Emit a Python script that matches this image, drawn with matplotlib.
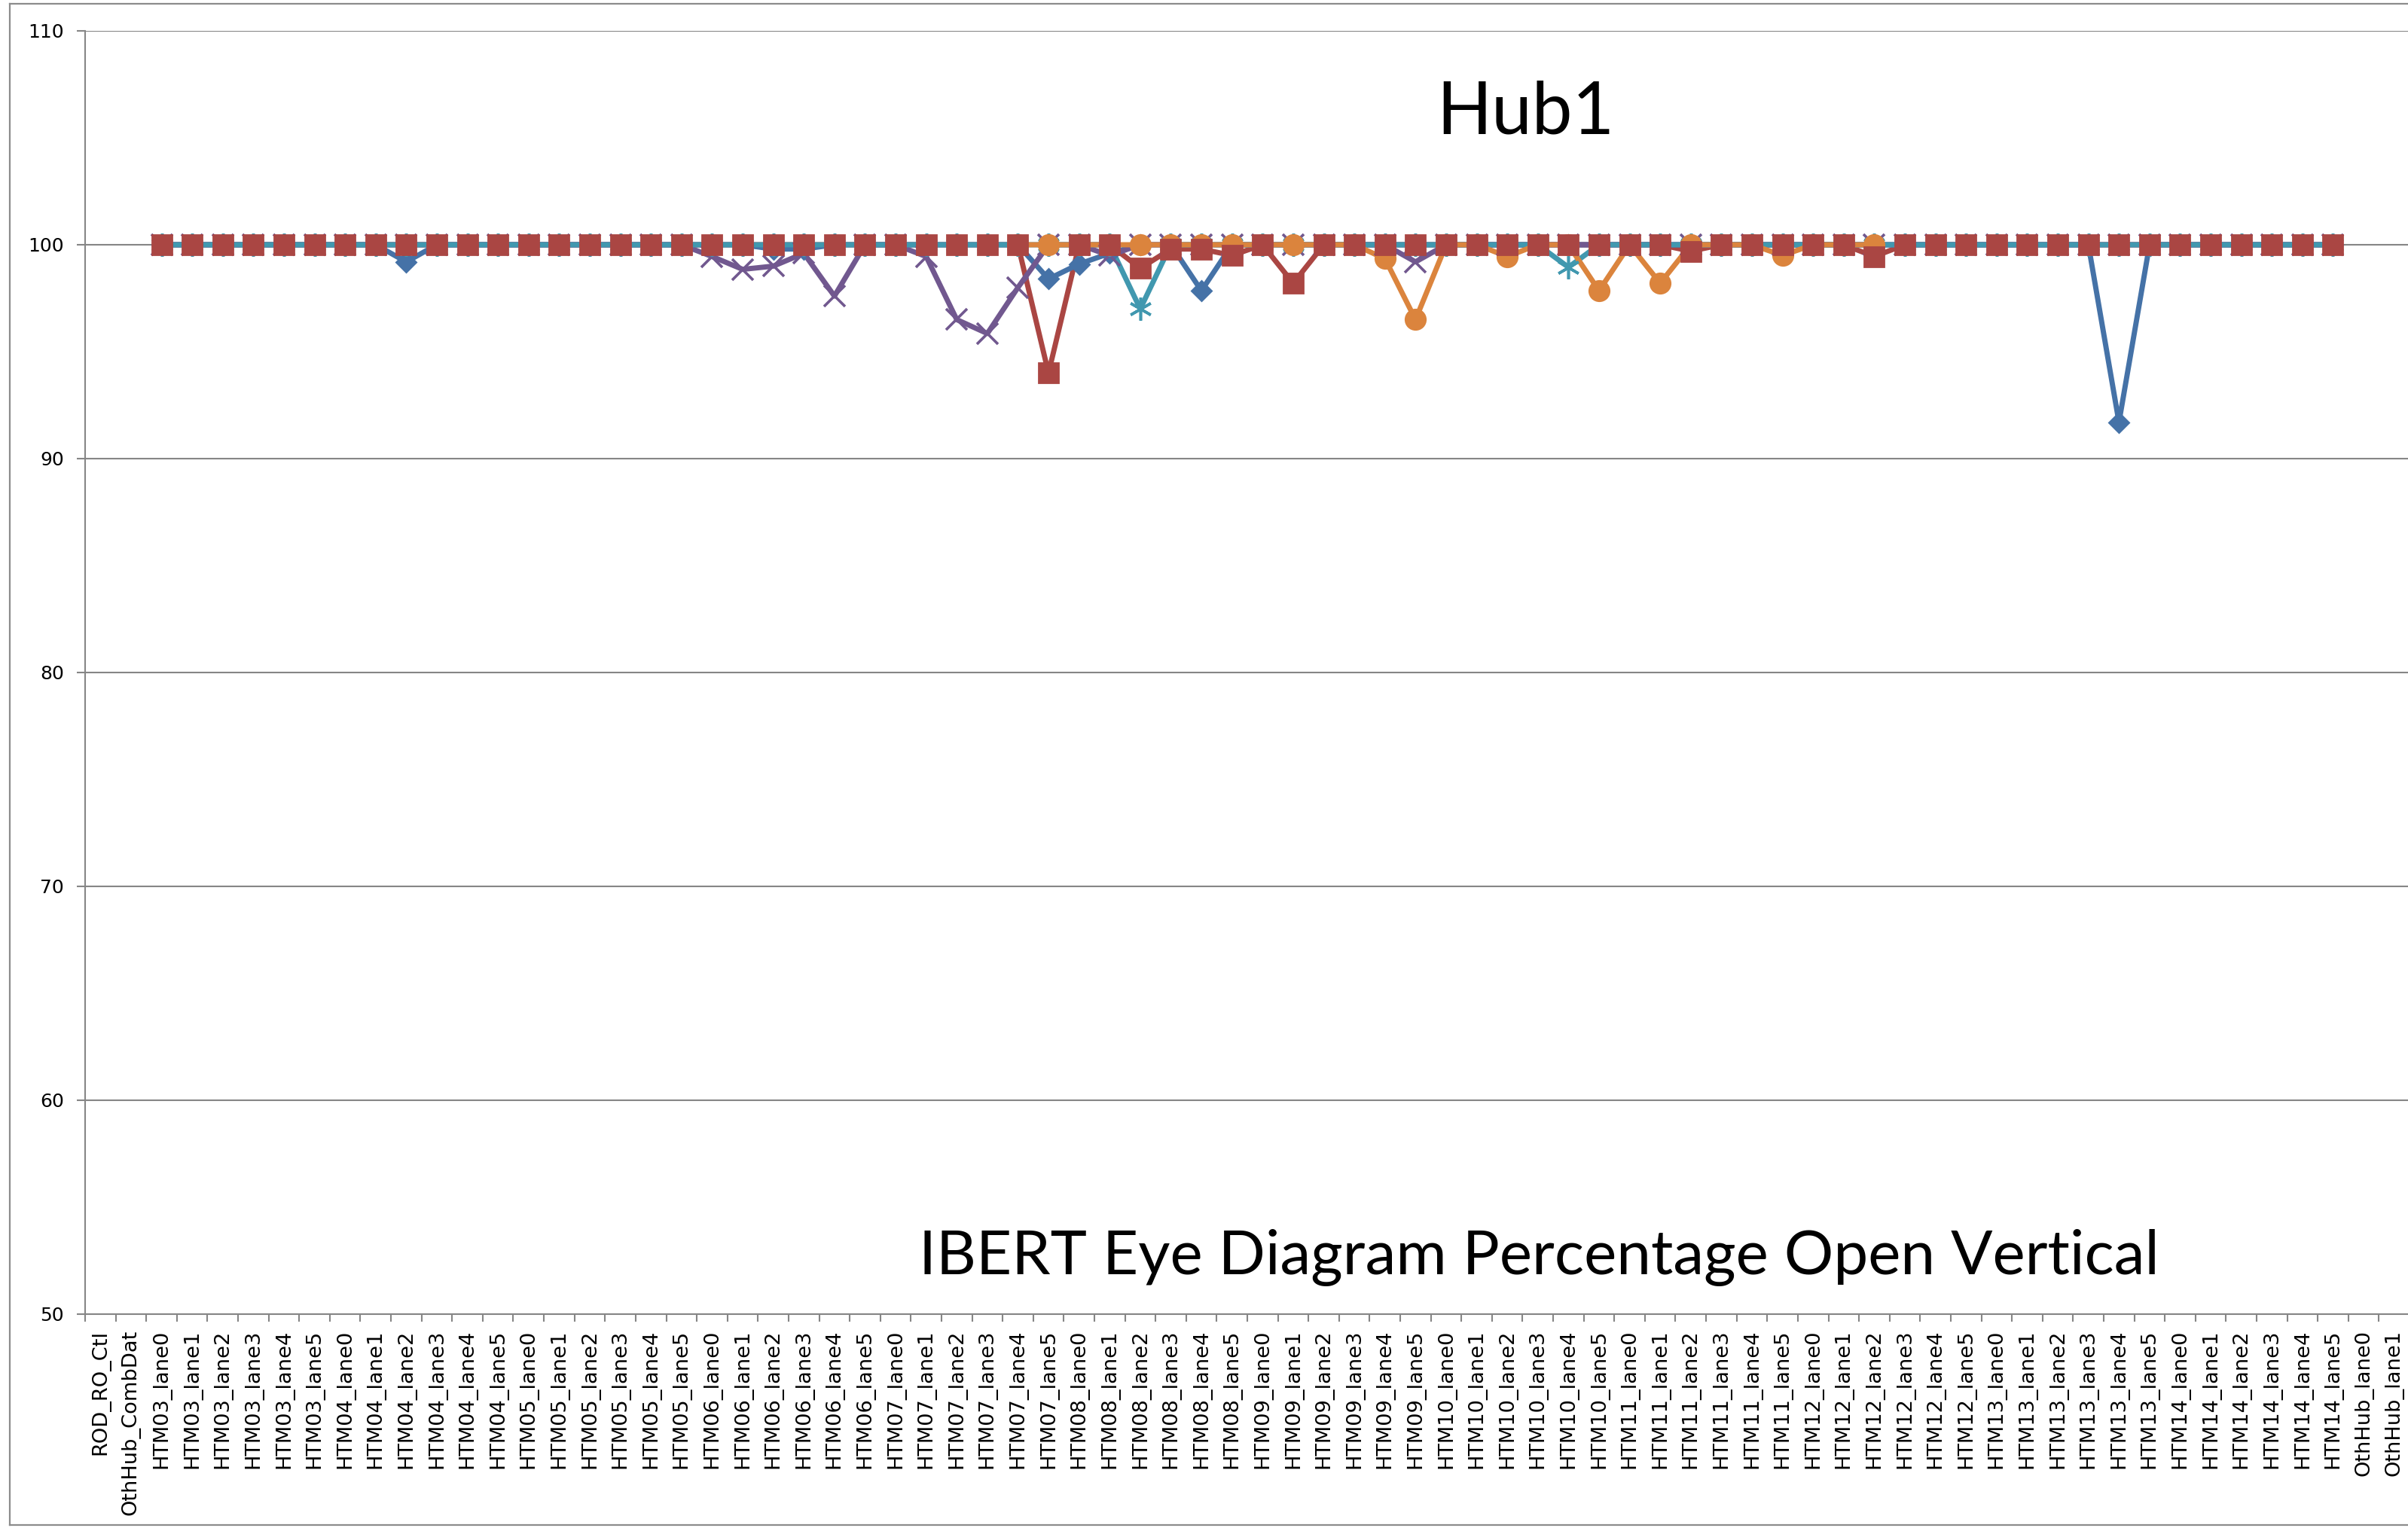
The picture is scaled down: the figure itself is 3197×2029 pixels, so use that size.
import numpy as np
import matplotlib
matplotlib.use('Agg')
import matplotlib.pyplot as plt
from matplotlib.lines import Line2D

categories = [
    'ROD_RO_Ctl', 'OthHub_CombDat',
    'HTM03_lane0', 'HTM03_lane1', 'HTM03_lane2', 'HTM03_lane3', 'HTM03_lane4', 'HTM03_lane5',
    'HTM04_lane0', 'HTM04_lane1', 'HTM04_lane2', 'HTM04_lane3', 'HTM04_lane4', 'HTM04_lane5',
    'HTM05_lane0', 'HTM05_lane1', 'HTM05_lane2', 'HTM05_lane3', 'HTM05_lane4', 'HTM05_lane5',
    'HTM06_lane0', 'HTM06_lane1', 'HTM06_lane2', 'HTM06_lane3', 'HTM06_lane4', 'HTM06_lane5',
    'HTM07_lane0', 'HTM07_lane1', 'HTM07_lane2', 'HTM07_lane3', 'HTM07_lane4', 'HTM07_lane5',
    'HTM08_lane0', 'HTM08_lane1', 'HTM08_lane2', 'HTM08_lane3', 'HTM08_lane4', 'HTM08_lane5',
    'HTM09_lane0', 'HTM09_lane1', 'HTM09_lane2', 'HTM09_lane3', 'HTM09_lane4', 'HTM09_lane5',
    'HTM10_lane0', 'HTM10_lane1', 'HTM10_lane2', 'HTM10_lane3', 'HTM10_lane4', 'HTM10_lane5',
    'HTM11_lane0', 'HTM11_lane1', 'HTM11_lane2', 'HTM11_lane3', 'HTM11_lane4', 'HTM11_lane5',
    'HTM12_lane0', 'HTM12_lane1', 'HTM12_lane2', 'HTM12_lane3', 'HTM12_lane4', 'HTM12_lane5',
    'HTM13_lane0', 'HTM13_lane1', 'HTM13_lane2', 'HTM13_lane3', 'HTM13_lane4', 'HTM13_lane5',
    'HTM14_lane0', 'HTM14_lane1', 'HTM14_lane2', 'HTM14_lane3', 'HTM14_lane4', 'HTM14_lane5',
    'OthHub_lane0', 'OthHub_lane1',
]

N = None
blue_diamond = [
    N, N,
    100, 100, 100, 100, 100, 100,
    100, 100, 99.2, 100, 100, 100,
    100, 100, 100, 100, 100, 100,
    100, 100, 99.8, 99.8, 100, 100,
    100, 100, 100, 100, 100, 98.4,
    99.1, 99.6, 100, 100, 97.85, 100,
    100, 100, 100, 100, 100, 100,
    100, 100, 100, 100, 100, 100,
    100, 100, 100, 100, 100, 100,
    100, 100, 100, 100, 100, 100,
    100, 100, 100, 100, 91.7, 100,
    100, 100, 100, 100, 100, 100,
    N, N,
]
red_square = [
    N, N,
    100, 100, 100, 100, 100, 100,
    100, 100, 100, 100, 100, 100,
    100, 100, 100, 100, 100, 100,
    100, 100, 100, 100, 100, 100,
    100, 100, 100, 100, 100, 94.0,
    100, 100, 98.9, 99.8, 99.8, 99.5,
    100, 98.2, 100, 100, 100, 100,
    100, 100, 100, 100, 100, 100,
    100, 100, 99.7, 100, 100, 100,
    100, 100, 99.45, 100, 100, 100,
    100, 100, 100, 100, 100, 100,
    100, 100, 100, 100, 100, 100,
    N, N,
]
purple_x = [
    N, N,
    100, 100, 100, 100, 100, 100,
    100, 100, 100, 100, 100, 100,
    100, 100, 100, 100, 100, 100,
    99.45, 98.85, 99.0, 99.6, 97.6, 100,
    100, 99.45, 96.5, 95.85, 98.0, 100,
    100, 99.5, 100, 100, 100, 100,
    100, 100, 100, 100, 100, 99.2,
    100, 100, 100, 100, 100, 100,
    100, 100, 100, 100, 100, 100,
    100, 100, 100, 100, 100, 100,
    100, 100, 100, 100, 100, 100,
    100, 100, 100, 100, 100, 100,
    N, N,
]
aqua_star = [
    N, N,
    100, 100, 100, 100, 100, 100,
    100, 100, 100, 100, 100, 100,
    100, 100, 100, 100, 100, 100,
    100, 100, 100, 100, 100, 100,
    100, 100, 100, 100, 100, 100,
    100, 100, 97.0, 100, 100, 100,
    100, 100, 100, 100, 100, 100,
    100, 100, 100, 100, 98.95, 100,
    100, 100, 100, 100, 100, 100,
    100, 100, 100, 100, 100, 100,
    100, 100, 100, 100, 100, 100,
    100, 100, 100, 100, 100, 100,
    N, N,
]
orange_circle = [
    N, N,
    N, N, N, N, N, N,
    N, N, N, N, N, N,
    N, N, N, N, N, N,
    N, N, N, N, N, N,
    N, N, N, N, 100, 100,
    100, 100, 100, 100, 100, 100,
    100, 100, 100, 100, 99.35, 96.5,
    100, 100, 99.45, 100, 100, 97.85,
    100, 98.2, 100, 100, 100, 99.5,
    100, 100, 100, N, N, N,
    N, N, N, N, N, N,
    N, N, N, N, N, N,
    N, N,
]

title_text = 'Hub1'
subtitle_text = 'IBERT Eye Diagram Percentage Open Vertical'
y_ticks = [50, 60, 70, 80, 90, 100, 110]

W, H, DPI = 3197, 2029, 200
fig = plt.figure(figsize=(W / DPI, H / DPI), dpi=DPI)
fig.patch.set_facecolor('white')

ax_left, ax_right = 113, 3199
ax_top, ax_bottom = 41, 1745
ax = fig.add_axes([ax_left / W, 1 - ax_bottom / H, (ax_right - ax_left) / W, (ax_bottom - ax_top) / H])
ax.set_facecolor('white')

x = np.arange(len(categories))

def arr(v):
    return np.array([np.nan if a is None else a for a in v], dtype=float)

series = [
    # values, color, marker, ms, mew, line z, marker z
    (blue_diamond, '#4572A7', 'D', 6.5, 1.0, 2.0, 3.0),
    (purple_x, '#71588F', 'x', 10, 1.3, 2.1, 3.1),
    (aqua_star, '#4198AF', (6, 2, 0), 11, 1.3, 2.2, 3.2),
    (red_square, '#AA4643', 's', 9.7, 1.0, 1.9, 3.5),
    (orange_circle, '#DB843D', 'o', 9.5, 1.0, 2.4, 3.4),
]
for vals, col, mk, ms, mew, lz, mz in series:
    y = arr(vals)
    ax.plot(x, y, color=col, lw=2.5, zorder=lz, solid_capstyle='butt')
    ax.plot(x, y, ls='none', marker=mk, ms=ms, mfc=col, mec=col, mew=mew, zorder=mz)

ax.set_xlim(-0.5, len(categories) - 0.5)
ax.set_ylim(50, 110)
ax.set_yticks(y_ticks)
ax.set_yticklabels([str(t) for t in y_ticks])
ax.grid(axis='y', color='#868686', lw=0.75, zorder=0)
ax.set_axisbelow(True)

for s in ['top', 'right']:
    ax.spines[s].set_visible(False)
for s in ['left', 'bottom']:
    ax.spines[s].set_color('#868686')
    ax.spines[s].set_linewidth(0.75)

ax.set_xticks(x)
ax.set_xticklabels(categories, rotation=90, fontsize=9.8, family='DejaVu Sans')
ax.set_xticks(np.arange(-0.5, len(categories)), minor=True)
ax.tick_params(axis='x', which='major', length=0, pad=7.5, colors='black')
ax.tick_params(axis='x', which='minor', length=3.6, width=0.75, color='#868686')
ax.tick_params(axis='y', which='major', length=4, width=0.75, color='#868686', labelsize=9, pad=6, labelcolor='black')

# outer chart border
bc = '#8C8C8C'
fig.add_artist(Line2D([13 / W, 13 / W], [1 - 2025 / H, 1 - 5 / H], color=bc, lw=0.8, transform=fig.transFigure))
fig.add_artist(Line2D([13 / W, 1.0], [1 - 5 / H, 1 - 5 / H], color=bc, lw=0.8, transform=fig.transFigure))
fig.add_artist(Line2D([13 / W, 1.0], [1 - 2025 / H, 1 - 2025 / H], color=bc, lw=0.8, transform=fig.transFigure))

# titles, sized to match target widths
t1 = fig.text(2025 / W, 1 - 177 / H, title_text, ha='center', va='baseline',
              fontsize=36, family='Lato', color='black')
t2 = fig.text(2043 / W, 1 - 1692 / H, subtitle_text, ha='center', va='baseline',
              fontsize=30, family='Lato', color='black')
fig.canvas.draw()
r = fig.canvas.get_renderer()
for t, target in [(t1, 236), (t2, 1648)]:
    w = t.get_window_extent(r).width
    t.set_fontsize(t.get_fontsize() * target / w)

fig.savefig('out.png', dpi=DPI, facecolor='white')
